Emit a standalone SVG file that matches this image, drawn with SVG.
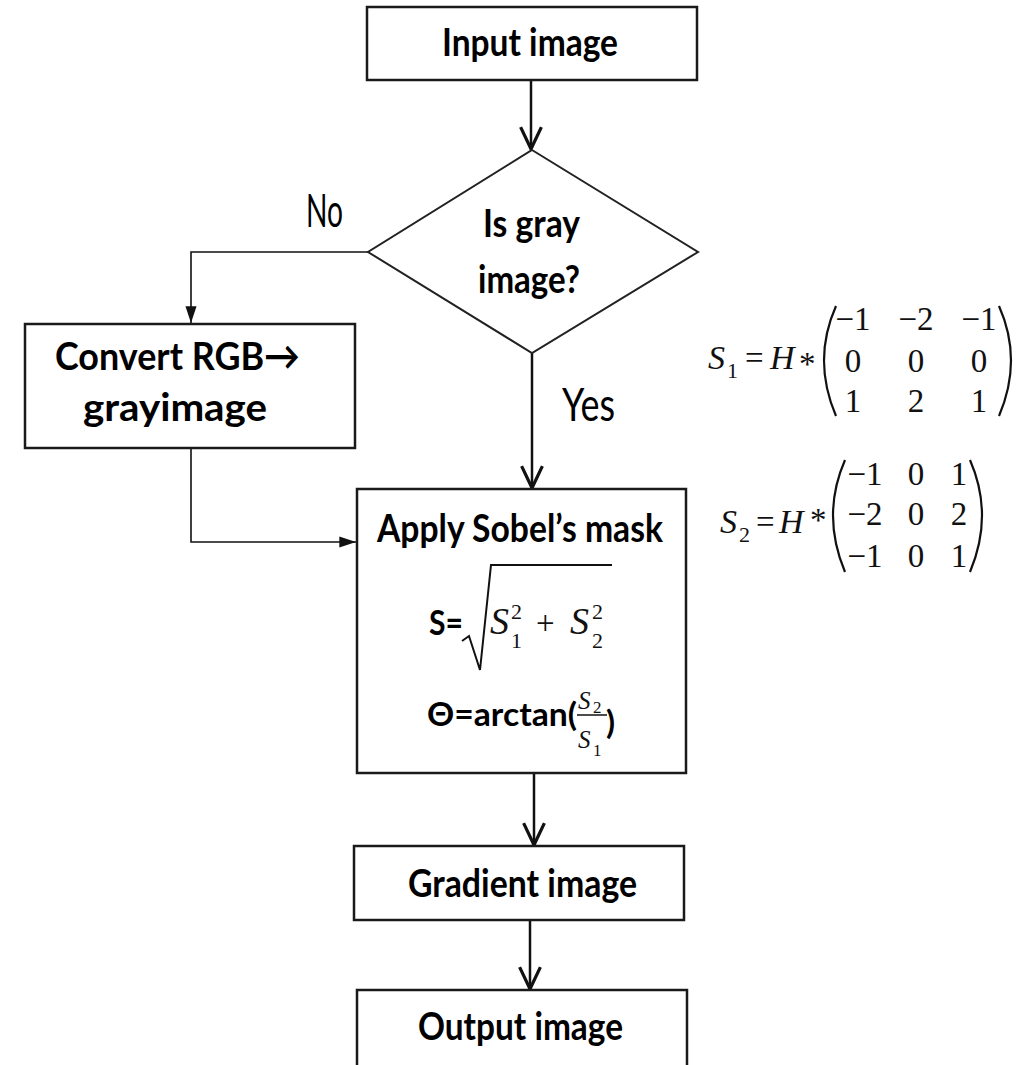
<svg xmlns="http://www.w3.org/2000/svg" width="1028" height="1065" viewBox="0 0 1028 1065">
<style>
.box{fill:#fff;stroke:#1a1a1a;stroke-width:2.5}
.dia{fill:#fff;stroke:#222;stroke-width:2}
.ln{fill:none;stroke:#111;stroke-width:2.5}
.ln2{fill:none;stroke:#111;stroke-width:1.6}
.b{font-family:Lato,"Liberation Sans",sans-serif;font-weight:bold;font-size:39px;fill:#000}
.r{font-family:Lato,"Liberation Sans",sans-serif;font-size:46px;fill:#000}
.m{font-family:"Liberation Serif","DejaVu Serif",serif;font-size:33px;fill:#111}
.mi{font-family:"Liberation Serif","DejaVu Serif",serif;font-style:italic;font-size:34px;fill:#111}
.ms{font-family:"Liberation Serif","DejaVu Serif",serif;font-size:22px;fill:#111}
.c{text-anchor:middle}
.par{fill:none;stroke:#111;stroke-width:2.2}
</style>
<defs>
<marker id="open" markerUnits="userSpaceOnUse" markerWidth="30" markerHeight="30" viewBox="-22 -12 26 24" refX="0" refY="0" orient="auto">
<path d="M-19,-9 L0,0 L-19,9" fill="none" stroke="#111" stroke-width="2.8"/>
</marker>
<marker id="small" markerUnits="userSpaceOnUse" markerWidth="20" markerHeight="20" viewBox="-16 -8 18 16" refX="0" refY="0" orient="auto">
<path d="M-15,-5 L0,0 L-15,5 Z" fill="#111"/>
</marker>
</defs>

<g id="connectors">
<line class="ln" x1="531" y1="81" x2="531" y2="149" marker-end="url(#open)"/>
<polyline class="ln2" points="368,252 191,252 191,323" marker-end="url(#small)"/>
<polyline class="ln2" points="191,448 191,542 356,542" marker-end="url(#small)"/>
<line class="ln" x1="532" y1="353" x2="532" y2="488" marker-end="url(#open)"/>
<line class="ln" x1="534" y1="773" x2="534" y2="845" marker-end="url(#open)"/>
<line class="ln" x1="530" y1="920" x2="530" y2="989" marker-end="url(#open)"/>
</g>

<g id="input">
<rect class="box" x="367" y="7" width="330" height="73"/>
<text class="b" x="442" y="56" textLength="176" lengthAdjust="spacingAndGlyphs">Input image</text>
</g>

<g id="decision">
<polygon class="dia" points="532,150 698,252 532,353 368,252"/>
<text class="b" x="483" y="237" textLength="97" lengthAdjust="spacingAndGlyphs">Is gray</text>
<text class="b" x="478" y="293" textLength="102" lengthAdjust="spacingAndGlyphs">image?</text>
</g>

<g id="label-no">
<text class="r" x="306" y="227" textLength="37" lengthAdjust="spacingAndGlyphs">No</text>
</g>
<g id="label-yes">
<text class="r" x="562" y="421" textLength="53" lengthAdjust="spacingAndGlyphs">Yes</text>
</g>

<g id="convert">
<rect class="box" x="25" y="324" width="330" height="124"/>
<text class="b" x="55" y="370" textLength="245" lengthAdjust="spacingAndGlyphs">Convert RGB→</text>
<text class="b" x="83" y="421" textLength="184" lengthAdjust="spacingAndGlyphs">grayimage</text>
</g>

<g id="sobel">
<rect class="box" x="357" y="489" width="329" height="284"/>
<text class="b" x="377" y="542" textLength="286" lengthAdjust="spacingAndGlyphs">Apply Sobel’s mask</text>
<text class="b" x="429" y="635" style="font-size:35px" textLength="34" lengthAdjust="spacingAndGlyphs">S=</text>
<path d="M462,641 L469,636 L480,670 L491,565 L612,565" fill="none" stroke="#111" stroke-width="2"/>
<text class="mi" x="490" y="634" style="font-size:38px">S</text>
<text class="ms" x="511" y="619">2</text>
<text class="ms" x="511" y="648">1</text>
<text class="m" x="536" y="634">+</text>
<text class="mi" x="570" y="634" style="font-size:38px">S</text>
<text class="ms" x="592" y="619">2</text>
<text class="ms" x="592" y="648">2</text>
<text class="b" x="427" y="726" style="font-size:33px" textLength="150" lengthAdjust="spacingAndGlyphs">Θ=arctan(</text>
<text class="mi" x="578" y="709" style="font-size:25px">S</text>
<text class="ms" x="593" y="713" style="font-size:17px">2</text>
<line x1="577" y1="715" x2="607" y2="715" stroke="#111" stroke-width="1.5"/>
<text class="mi" x="578" y="748" style="font-size:25px">S</text>
<text class="ms" x="593" y="756" style="font-size:17px">1</text>
<text class="b" x="606" y="734" style="font-size:33px">)</text>
</g>

<g id="gradient">
<rect class="box" x="354" y="846" width="330" height="74"/>
<text class="b" x="408" y="897" textLength="229" lengthAdjust="spacingAndGlyphs">Gradient image</text>
</g>

<g id="output">
<rect class="box" x="357" y="990" width="330" height="80"/>
<text class="b" x="418" y="1040" textLength="205" lengthAdjust="spacingAndGlyphs">Output image</text>
</g>

<g id="s1-formula">
<text class="mi" x="708" y="369">S</text>
<text class="ms" x="727" y="378">1</text>
<text class="m" x="745" y="369">=</text>
<text class="mi" x="770" y="369">H</text>
<text class="m" x="799" y="375">*</text>
<path class="par" d="M836,306 Q812,360 836,416"/>
<path class="par" d="M999,306 Q1023,360 999,416"/>
<text class="m c" x="853" y="330">−1</text>
<text class="m c" x="916" y="330">−2</text>
<text class="m c" x="979" y="330">−1</text>
<text class="m c" x="853" y="372">0</text>
<text class="m c" x="916" y="372">0</text>
<text class="m c" x="979" y="372">0</text>
<text class="m c" x="853" y="412">1</text>
<text class="m c" x="916" y="412">2</text>
<text class="m c" x="979" y="412">1</text>
</g>

<g id="s2-formula">
<text class="mi" x="720" y="533">S</text>
<text class="ms" x="739" y="542">2</text>
<text class="m" x="756" y="533">=</text>
<text class="mi" x="779" y="533">H</text>
<text class="m" x="810" y="531">*</text>
<path class="par" d="M845,460 Q821,515 845,572"/>
<path class="par" d="M970,460 Q994,515 970,572"/>
<text class="m c" x="865" y="485">−1</text>
<text class="m c" x="916" y="485">0</text>
<text class="m c" x="959" y="485">1</text>
<text class="m c" x="865" y="525">−2</text>
<text class="m c" x="916" y="525">0</text>
<text class="m c" x="959" y="525">2</text>
<text class="m c" x="865" y="567">−1</text>
<text class="m c" x="916" y="567">0</text>
<text class="m c" x="959" y="567">1</text>
</g>
</svg>
